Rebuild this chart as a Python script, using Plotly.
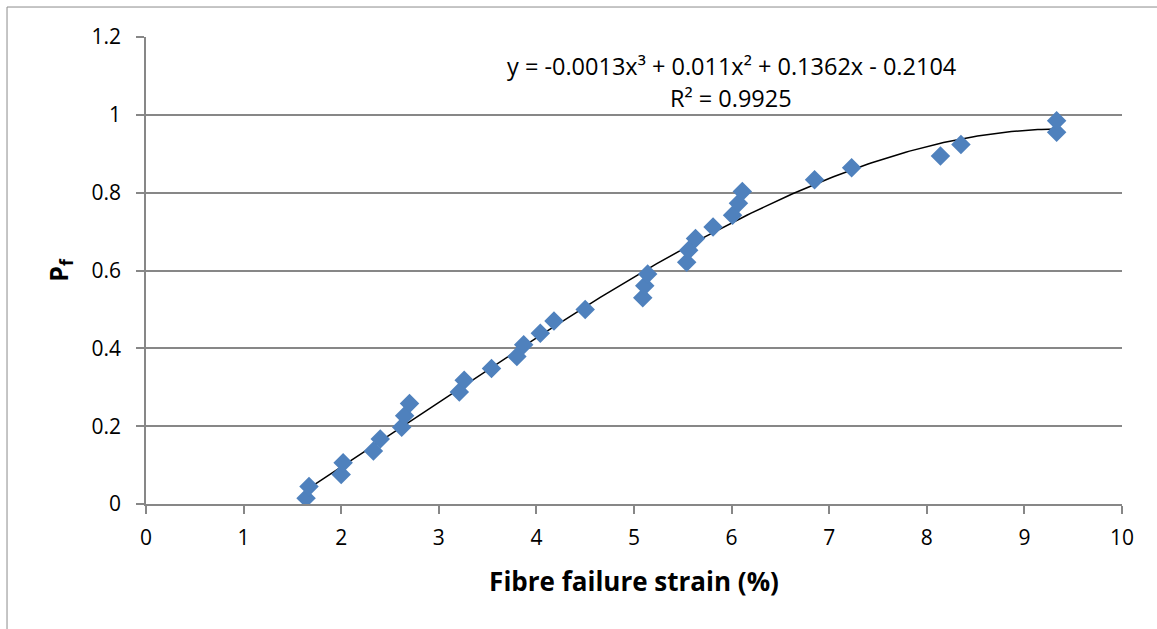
import numpy as np
import plotly.graph_objects as go

# Data
strain = [1.64, 1.67, 2.00, 2.02, 2.33, 2.40, 2.62, 2.65, 2.70, 3.21, 3.26,
          3.54, 3.80, 3.87, 4.04, 4.18, 4.50, 5.09, 5.11, 5.14, 5.54, 5.56,
          5.63, 5.81, 6.01, 6.07, 6.11, 6.85, 7.23, 8.14, 8.35, 9.33, 9.33]
pf = [0.015, 0.045, 0.076, 0.106, 0.136, 0.167, 0.197, 0.227, 0.258, 0.288,
      0.318, 0.348, 0.379, 0.409, 0.439, 0.470, 0.500, 0.530, 0.561, 0.591,
      0.621, 0.652, 0.682, 0.712, 0.742, 0.773, 0.803, 0.833, 0.864, 0.894,
      0.924, 0.955, 0.985]

x_ticks = [0, 1, 2, 3, 4, 5, 6, 7, 8, 9, 10]
y_ticks = [0, 0.2, 0.4, 0.6, 0.8, 1, 1.2]
y_tick_text = ["0", "0.2", "0.4", "0.6", "0.8", "1", "1.2"]

eq_line1 = "y = -0.0013x³ + 0.011x² + 0.1362x - 0.2104"
eq_line2 = "R² = 0.9925"

# Cubic trendline fitted to the data (as the spreadsheet does)
coef = np.polyfit(strain, pf, 3)
xf = np.linspace(min(strain), max(strain), 200)
yf = np.polyval(coef, xf)

FONT = "'Open Sans', Lato, sans-serif"
GRID = "#878787"

fig = go.Figure()
fig.add_trace(go.Scatter(x=xf, y=yf, mode="lines",
                         line=dict(color="black", width=1.5),
                         hoverinfo="skip", showlegend=False))
fig.add_trace(go.Scatter(x=strain, y=pf, mode="markers",
                         marker=dict(symbol="diamond", size=15, color="#4F81BD",
                                     line=dict(width=0)),
                         showlegend=False))

for txt, yy in [(eq_line1, 0.938), (eq_line2, 0.869)]:
    fig.add_annotation(x=0.5994, y=yy, xref="paper", yref="paper",
                       text=txt, showarrow=False, xanchor="center",
                       yanchor="middle", align="center",
                       font=dict(family=FONT, size=23.5, color="black"))

# outer chart frame
fig.add_shape(type="rect", xref="paper", yref="paper",
              x0=-0.1424, x1=1.04, y0=-0.35, y1=1.0642,
              line=dict(color="#8c8c8c", width=1), fillcolor="rgba(0,0,0,0)",
              layer="below")

fig.update_layout(
    width=1157, height=629,
    margin=dict(l=146, r=35, t=37, b=125),
    paper_bgcolor="white", plot_bgcolor="white",
    font=dict(family=FONT, size=21, color="black"),
    xaxis=dict(range=[0, 10], tickvals=x_ticks, showgrid=False,
               showline=True, linecolor=GRID, linewidth=1.5,
               ticks="outside", ticklen=8, tickcolor=GRID, tickwidth=1.5,
               zeroline=False, tickfont=dict(size=21), ticklabelstandoff=6,
               title=dict(text="<b>Fibre failure strain (%)</b>",
                          font=dict(size=26), standoff=23)),
    yaxis=dict(range=[0, 1.2], tickvals=y_ticks, ticktext=y_tick_text,
               showgrid=True, gridcolor=GRID, gridwidth=1.5,
               showline=True, linecolor=GRID, linewidth=1.5,
               ticks="outside", ticklen=8, tickcolor=GRID, tickwidth=1.5,
               zeroline=False, tickfont=dict(size=21), ticklabelstandoff=11,
               title=dict(text="<b>P<sub>f</sub></b>", font=dict(size=25),
                          standoff=16)),
)

fig.write_html("out.html")
